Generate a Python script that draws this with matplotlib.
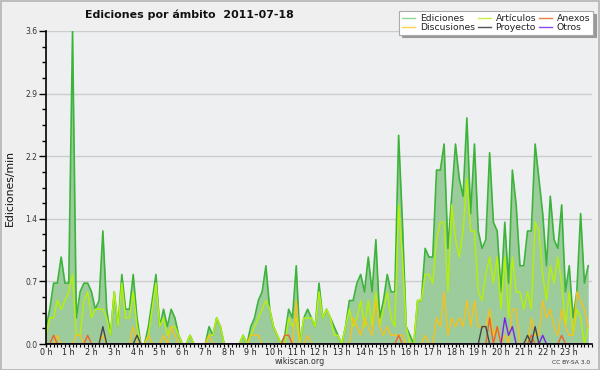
import numpy as np
import matplotlib
matplotlib.use("Agg")
import matplotlib.pyplot as plt
from matplotlib.patches import Rectangle
from matplotlib.lines import Line2D

# ---- data (edits per minute, 10-minute bins, 0h00 .. 23h50) ----
minutes = np.arange(0, 1440, 10)

ediciones = [
    0.2, 0.4, 0.7, 0.7, 1.0, 0.7, 0.7, 3.6, 0.3, 0.6, 0.7, 0.7,
    0.6, 0.4, 0.5, 1.3, 0.4, 0.1, 0.6, 0.2, 0.8, 0.4, 0.4, 0.8,
    0.3, 0.0, 0.0, 0.2, 0.5, 0.8, 0.2, 0.4, 0.2, 0.4, 0.3, 0.1,
    0.0, 0.0, 0.1, 0.0, 0.0, 0.0, 0.0, 0.2, 0.1, 0.3, 0.2, 0.0,
    0.0, 0.0, 0.0, 0.0, 0.1, 0.0, 0.2, 0.3, 0.5, 0.6, 0.9, 0.4,
    0.2, 0.1, 0.0, 0.1, 0.4, 0.3, 0.9, 0.0, 0.3, 0.4, 0.3, 0.2,
    0.7, 0.3, 0.4, 0.3, 0.2, 0.1, 0.0, 0.2, 0.5, 0.5, 0.7, 0.8,
    0.6, 1.0, 0.6, 1.2, 0.3, 0.5, 0.8, 0.6, 0.6, 2.4, 1.4, 0.2,
    0.1, 0.0, 0.5, 0.5, 1.1, 1.0, 1.0, 2.0, 2.0, 2.3, 1.1, 1.7,
    2.3, 1.9, 1.7, 2.6, 1.5, 2.3, 1.3, 1.1, 1.2, 2.2, 1.4, 1.3,
    0.6, 1.4, 0.7, 2.0, 1.6, 0.9, 0.9, 1.3, 1.3, 2.3, 1.9, 1.5,
    0.9, 1.7, 1.2, 1.1, 1.6, 0.6, 0.9, 0.3, 0.6, 1.5, 0.7, 0.9,
]

articulos = [
    0.1, 0.3, 0.3, 0.5, 0.4, 0.5, 0.6, 0.8, 0.1, 0.1, 0.5, 0.6,
    0.3, 0.4, 0.4, 0.4, 0.3, 0.1, 0.6, 0.2, 0.7, 0.3, 0.3, 0.6,
    0.2, 0.0, 0.0, 0.1, 0.4, 0.7, 0.2, 0.3, 0.1, 0.2, 0.2, 0.1,
    0.0, 0.0, 0.1, 0.0, 0.0, 0.0, 0.0, 0.1, 0.1, 0.3, 0.2, 0.0,
    0.0, 0.0, 0.0, 0.0, 0.1, 0.0, 0.1, 0.2, 0.3, 0.4, 0.5, 0.4,
    0.2, 0.1, 0.0, 0.0, 0.3, 0.2, 0.3, 0.0, 0.3, 0.3, 0.3, 0.2,
    0.6, 0.3, 0.4, 0.3, 0.1, 0.1, 0.0, 0.2, 0.4, 0.2, 0.3, 0.5,
    0.2, 0.5, 0.2, 0.6, 0.2, 0.4, 0.6, 0.3, 0.2, 1.6, 1.0, 0.2,
    0.0, 0.0, 0.5, 0.5, 0.8, 0.8, 0.7, 1.2, 1.4, 1.4, 0.6, 1.6,
    1.2, 1.0, 1.3, 1.9, 1.3, 1.3, 0.6, 0.5, 0.8, 1.0, 0.7, 1.0,
    0.4, 1.0, 0.3, 1.0, 0.6, 0.6, 0.4, 0.6, 0.4, 1.4, 1.3, 0.8,
    0.5, 0.9, 0.7, 1.0, 0.7, 0.2, 0.6, 0.1, 0.4, 0.3, 0.0, 0.2,
]

discusiones = [
    0.0, 0.0, 0.0, 0.1, 0.0, 0.0, 0.0, 0.0, 0.1, 0.1, 0.0, 0.0,
    0.0, 0.0, 0.0, 0.1, 0.0, 0.0, 0.0, 0.0, 0.0, 0.0, 0.0, 0.2,
    0.0, 0.0, 0.0, 0.1, 0.0, 0.0, 0.0, 0.1, 0.0, 0.2, 0.1, 0.0,
    0.0, 0.0, 0.0, 0.0, 0.0, 0.0, 0.0, 0.1, 0.0, 0.0, 0.0, 0.0,
    0.0, 0.0, 0.0, 0.0, 0.0, 0.0, 0.1, 0.1, 0.1, 0.0, 0.0, 0.0,
    0.0, 0.0, 0.0, 0.0, 0.0, 0.0, 0.5, 0.0, 0.0, 0.1, 0.0, 0.0,
    0.0, 0.0, 0.0, 0.0, 0.0, 0.0, 0.0, 0.0, 0.0, 0.3, 0.2, 0.1,
    0.3, 0.2, 0.1, 0.5, 0.2, 0.1, 0.2, 0.1, 0.1, 0.1, 0.1, 0.0,
    0.0, 0.0, 0.0, 0.0, 0.1, 0.0, 0.0, 0.3, 0.2, 0.6, 0.1, 0.3,
    0.2, 0.3, 0.2, 0.5, 0.2, 0.5, 0.2, 0.2, 0.2, 0.4, 0.1, 0.2,
    0.0, 0.1, 0.0, 0.4, 0.4, 0.0, 0.0, 0.0, 0.3, 0.1, 0.1, 0.5,
    0.3, 0.4, 0.2, 0.1, 0.4, 0.2, 0.1, 0.1, 0.6, 0.5, 0.4, 0.2,
]

anexos_idx = [2, 11, 63, 64, 93, 117, 119, 128, 136]
anexos_val = [0.1, 0.1, 0.1, 0.1, 0.1, 0.3, 0.2, 0.1, 0.1]

proyecto_idx = [15, 24, 115, 116, 127, 129]
proyecto_val = [0.2, 0.1, 0.2, 0.2, 0.1, 0.2]

otros_idx = [121, 122, 123, 131]
otros_val = [0.3, 0.1, 0.2, 0.1]

hour_labels = [f"{h} h" for h in range(24)]
y_ticks = [0.0, 0.72, 1.44, 2.16, 2.88, 3.6]
y_labels = ["0.0", "0.7", "1.4", "2.2", "2.9", "3.6"]


def sparse(idx, val):
    arr = np.zeros(len(minutes))
    arr[idx] = val
    return arr


anexos = sparse(anexos_idx, anexos_val)
proyecto = sparse(proyecto_idx, proyecto_val)
otros = sparse(otros_idx, otros_val)

hours = minutes / 60.0

# ---- figure ----
bg = "#efefef"
fig = plt.figure(figsize=(6.0, 3.7), dpi=100, facecolor=bg)
fig.patches.append(Rectangle((0.001, 0.001), 0.997, 0.996, transform=fig.transFigure,
                             fill=False, edgecolor="#b4b4b4", linewidth=1.2))

ax = fig.add_axes([46 / 600, 26 / 370, 546 / 600, 313 / 370])
ax.set_facecolor("#eeeff1")

c_ed_line = "#3cb43c"
c_ed_fill = "#9ccb9c"
c_art = "#b4ef10"
c_dis = "#f5c21b"
c_anx = "#f06428"
c_pro = "#454545"
c_otr = "#7a22e6"

ax.fill_between(hours, 0, ediciones, color=c_ed_fill, linewidth=0, zorder=2)
ax.plot(hours, ediciones, color=c_ed_line, lw=1.2, zorder=3)
ax.plot(hours, articulos, color=c_art, lw=1.1, zorder=4)
ax.plot(hours, discusiones, color=c_dis, lw=1.0, zorder=5)
ax.plot(hours, anexos, color=c_anx, lw=1.0, zorder=6)
ax.plot(hours, proyecto, color=c_pro, lw=1.0, zorder=6)
ax.plot(hours, otros, color=c_otr, lw=1.0, zorder=6)

ax.set_xlim(0, 24)
ax.set_ylim(0, 3.6)

ax.set_yticks(y_ticks)
ax.set_yticklabels(y_labels)
ax.set_yticks(np.arange(0, 3.61, 0.18), minor=True)
ax.set_xticks(np.arange(24))
ax.set_xticklabels(hour_labels)
ax.set_xticks(np.arange(0, 24.01, 1 / 6), minor=True)

ax.tick_params(axis="y", which="major", length=5, width=1, color="black",
               labelsize=5.5, labelcolor="#333333", pad=1)
ax.tick_params(axis="y", which="minor", length=3, width=1, color="black")
ax.tick_params(axis="x", which="major", length=2.4, width=1, color="black",
               labelsize=5.8, labelcolor="#222222", pad=0.3)
ax.tick_params(axis="x", which="minor", length=2.4, width=0.8, color="black")

ax.grid(axis="y", which="major", color="#cccccc", lw=1, zorder=0)
ax.set_axisbelow(True)
for s in ("top", "right"):
    ax.spines[s].set_visible(False)
for s in ("left", "bottom"):
    ax.spines[s].set_linewidth(1.2)
    ax.spines[s].set_zorder(10)

fig.text(10 / 600, 1 - 188 / 370, "Ediciones/min", rotation=90, ha="center",
         va="center", fontsize=7.8, color="#111111")

fig.text(85 / 600, 1 - 15 / 370, "Ediciones por ámbito  2011-07-18", ha="left",
         va="center", fontsize=7.9, fontweight="bold", color="#111111")

fig.text(300 / 600, 1 - 362 / 370, "wikiscan.org", ha="center", va="center",
         fontsize=5.8, color="#333333")
fig.text(590 / 600, 1 - 362 / 370, "CC BY-SA 3.0", ha="right", va="center",
         fontsize=4.3, color="#333333")

# legend (column-wise order for 3 columns)
handles = [
    Line2D([], [], color="#8fd88f", lw=1), Line2D([], [], color="#f7d44a", lw=1),
    Line2D([], [], color="#c8f040", lw=1), Line2D([], [], color="#555555", lw=1),
    Line2D([], [], color="#f07a48", lw=1), Line2D([], [], color="#8a48ee", lw=1),
]
labels = ["Ediciones", "Discusiones", "Artículos", "Proyecto", "Anexos", "Otros"]
leg = fig.legend(handles, labels, ncol=3, loc="upper right",
                 bbox_to_anchor=(593 / 600, 1 - 11 / 370), fontsize=6.7,
                 frameon=True, fancybox=False, shadow={"color": "#999999", "alpha": 1},
                 handlelength=1.4, handletextpad=0.5, columnspacing=0.3,
                 labelspacing=0.0, borderpad=0.3, borderaxespad=0)
leg.get_frame().set_edgecolor("#aaaaaa")
leg.get_frame().set_linewidth(0.8)
leg.get_frame().set_facecolor("white")
for t in leg.get_texts():
    t.set_color("#222222")

fig.savefig("out.png", dpi=100, facecolor=bg)
